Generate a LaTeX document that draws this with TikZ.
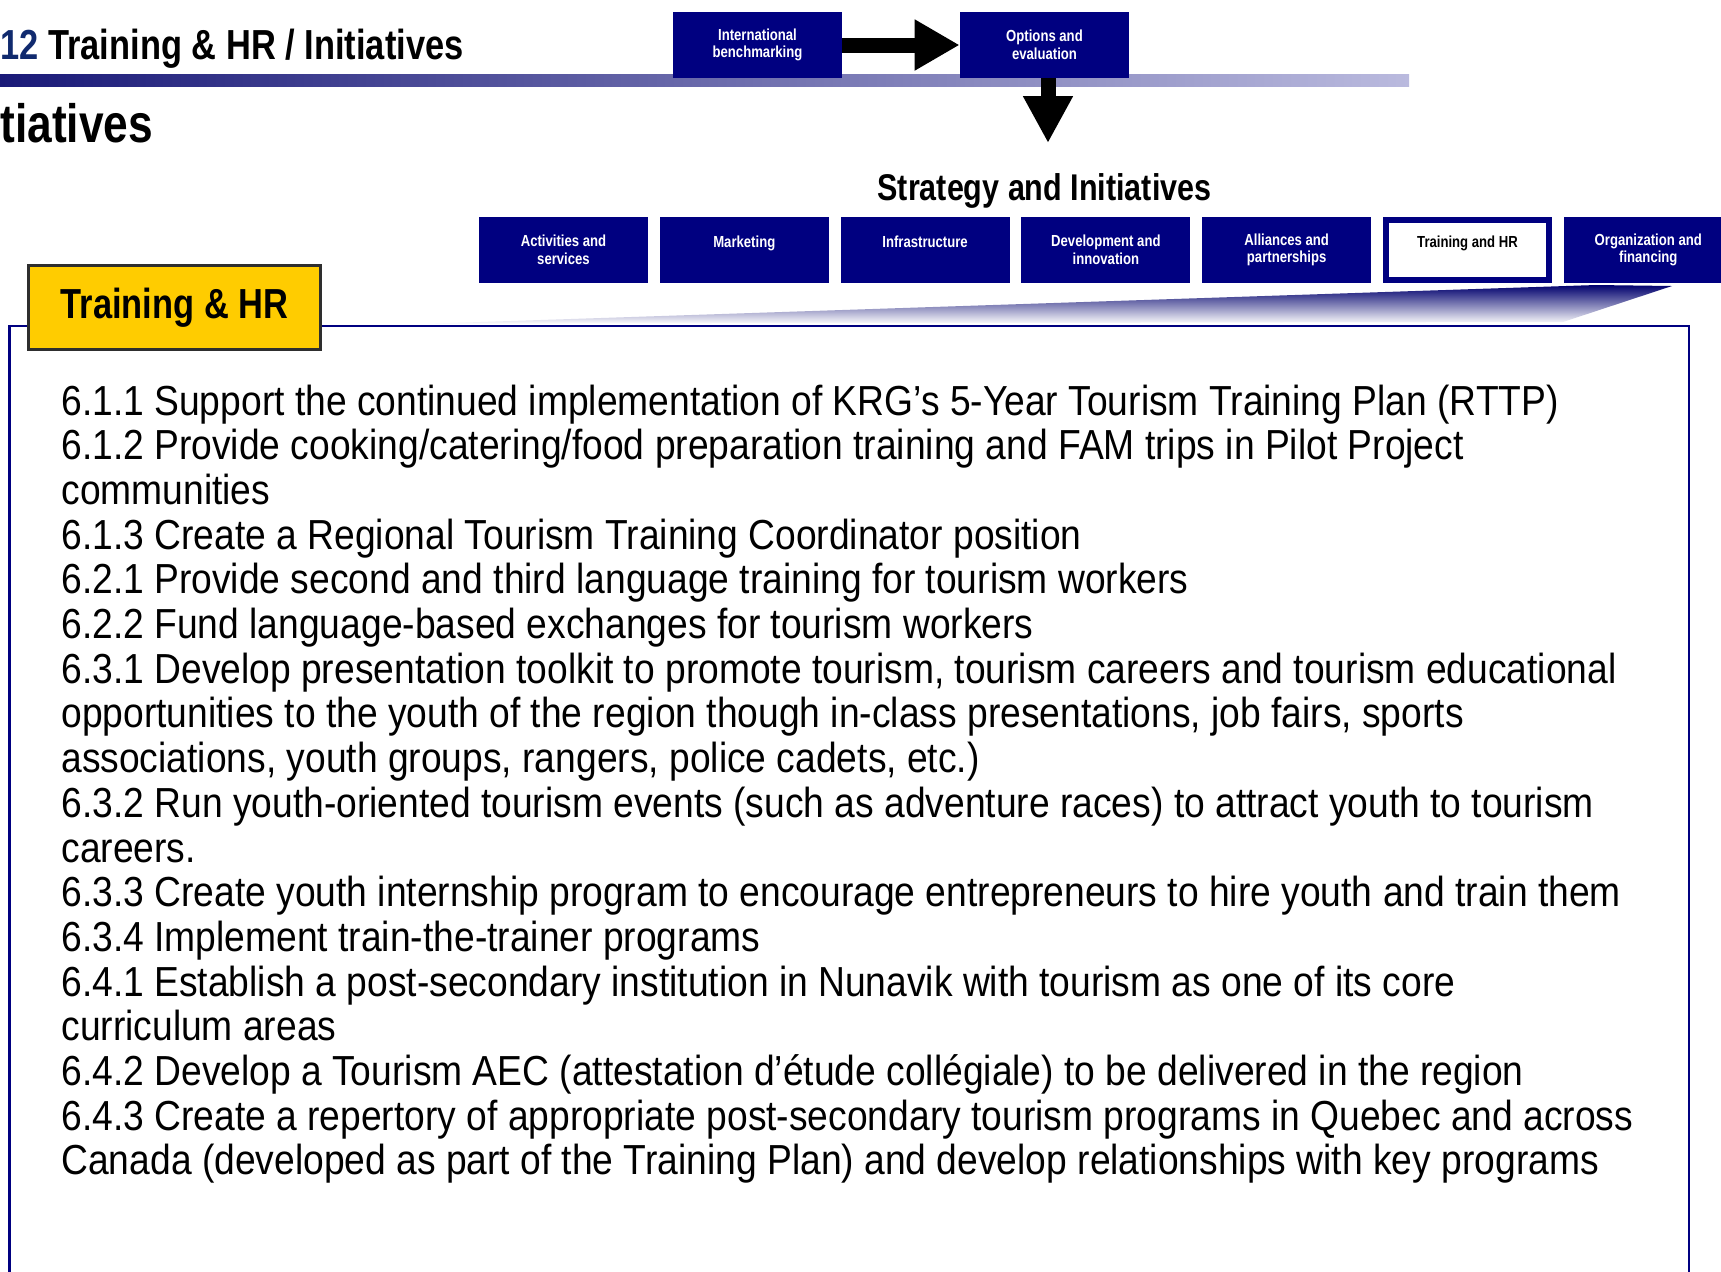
\documentclass[tikz,border=0pt]{standalone}
\usepackage{fontspec}
\setmainfont{Liberation Sans}[FakeStretch=0.886]
\newfontfamily\narrowsans{Liberation Sans}[FakeStretch=0.82]
\usetikzlibrary{arrows.meta}
\definecolor{navybox}{HTML}{000080}
\definecolor{titleblue}{HTML}{102A6E}
\definecolor{bardark}{HTML}{1A1A78}
\definecolor{barmid}{HTML}{8282B6}
\definecolor{barlight}{HTML}{BABADE}
\definecolor{hryellow}{HTML}{FFCC00}
\definecolor{hrborder}{HTML}{2E2E2E}

\begin{document}
\begin{tikzpicture}[x=0.5pt,y=-0.5pt]
  \useasboundingbox (0,0) rectangle (1721,1271);

  % header
  \shade[left color=bardark, middle color=barmid, right color=barlight] (0,74) rectangle (1409,86);
  \node[anchor=base west, inner sep=0, font=\narrowsans\bfseries\fontsize{21}{24}\selectfont] (title) at (0,59) {\textcolor{titleblue}{12} Training \& HR / Initiatives};
  \node[anchor=base west, inner sep=0, font=\narrowsans\bfseries\fontsize{27}{30}\selectfont] (sub) at (0,142) {tiatives};

  \begin{scope}[every node/.style={fill=navybox, text=white, align=center, inner sep=0,
      minimum width=84.5pt, minimum height=33pt,
      font=\narrowsans\bfseries\fontsize{8}{8.8}\selectfont}]
    \node (ib) at (757.5,45)  {International\\benchmarking};
    \node (oe) at (1044.5,45) {Options and\\evaluation};
  \end{scope}

  \coordinate (si) at (1048,143);
  \draw[line width=7.5pt, -{Triangle[width=24pt,length=22.5pt]}] (ib) -- (oe);
  \draw[line width=7.5pt, -{Triangle[width=23.5pt,length=23.5pt]}] (oe.south -| si) -- (si);

  \node[anchor=base, inner sep=0, font=\narrowsans\bfseries\fontsize{18.6}{20}\selectfont] (strat) at (1044.5,200) {Strategy and Initiatives};

  % strategy areas
  \begin{scope}[every node/.style={fill=navybox, text=white, align=center, inner sep=0,
      minimum width=84.5pt, minimum height=33pt,
      font=\narrowsans\bfseries\fontsize{8}{8.8}\selectfont}]
    \node (1) at (563.5,250)  {Activities and\\services};
    \node (2) at (744.3,250)  {Marketing\\~};
    \node (3) at (925.1,250)  {Infrastructure\\~};
    \node (4) at (1105.9,250) {Development and\\innovation};
    \node (5) at (1286.7,250) {Alliances and\\partnerships};
    \node[fill=white, text=black, draw=navybox, line width=3pt,
      minimum width=81.5pt, minimum height=30pt] (6) at (1467.5,250) {Training and HR\\~};
    \node (7) at (1648.3,250) {Organization and\\financing};
  \end{scope}

  % zoom wedge and frame
  \shade[top color=navybox!85!black, bottom color=white] (420,324) -- (1596,285) -- (1672,286) -- (1563,322) -- cycle;
  \draw[navybox, line width=1.3pt] (9.5,1290) -- (9.5,326) -- (1689,326) -- (1689,1290);

  \node[fill=hryellow, draw=hrborder, line width=1.5pt, minimum width=146pt, minimum height=42pt,
    inner sep=0, font=\narrowsans\bfseries\fontsize{21}{24}\selectfont] (hr) at (174.5,307.5) {Training \& HR};

  % initiatives
  \begin{scope}[every node/.style={anchor=base west, inner sep=0, font=\fontsize{21}{22.35}\selectfont}]
    \node (i1)  at (61,415)    {6.1.1 Support the continued implementation of KRG’s 5-Year Tourism Training Plan (RTTP)};
    \node (i2)  at (61,459.7)  {6.1.2 Provide cooking/catering/food preparation training and FAM trips in Pilot Project};
    \node (i3)  at (61,504.4)  {communities};
    \node (i4)  at (61,549.1)  {6.1.3 Create a Regional Tourism Training Coordinator position};
    \node (i5)  at (61,593.8)  {6.2.1 Provide second and third language training for tourism workers};
    \node (i6)  at (61,638.5)  {6.2.2 Fund language-based exchanges for tourism workers};
    \node (i7)  at (61,683.2)  {6.3.1 Develop presentation toolkit to promote tourism, tourism careers and tourism educational};
    \node (i8)  at (61,727.9)  {opportunities to the youth of the region though in-class presentations, job fairs, sports};
    \node (i9)  at (61,772.6)  {associations, youth groups, rangers, police cadets, etc.)};
    \node (i10) at (61,817.3)  {6.3.2 Run youth-oriented tourism events (such as adventure races) to attract youth to tourism};
    \node (i11) at (61,862)    {careers.};
    \node (i12) at (61,906.7)  {6.3.3 Create youth internship program to encourage entrepreneurs to hire youth and train them};
    \node (i13) at (61,951.4)  {6.3.4 Implement train-the-trainer programs};
    \node (i14) at (61,996.1)  {6.4.1 Establish a post-secondary institution in Nunavik with tourism as one of its core};
    \node (i15) at (61,1040.8) {curriculum areas};
    \node (i16) at (61,1085.5) {6.4.2 Develop a Tourism AEC (attestation d’étude collégiale) to be delivered in the region};
    \node (i17) at (61,1130.2) {6.4.3 Create a repertory of appropriate post-secondary tourism programs in Quebec and across};
    \node (i18) at (61,1174.9) {Canada (developed as part of the Training Plan) and develop relationships with key programs};
  \end{scope}

\end{tikzpicture}
\end{document}
